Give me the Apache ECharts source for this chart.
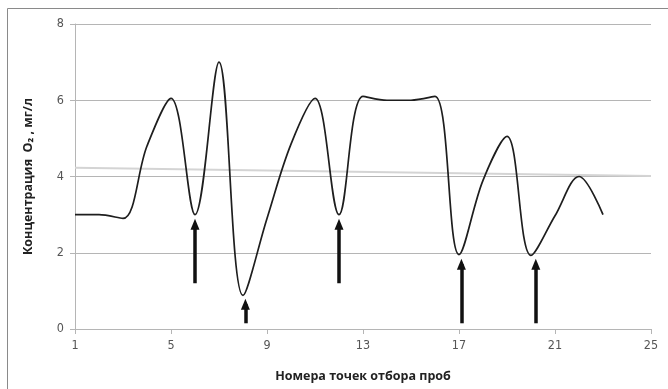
<!DOCTYPE html>
<html lang="ru">
<head>
    <meta charset="UTF-8">
    <script src="https://cdn.jsdelivr.net/npm/echarts@6/dist/echarts.min.js"></script>
    <title>O2</title>
    <style type="text/css">
        html, body { margin: 0; padding: 0; background: #fff; }
        #chart { width: 668px; height: 389px; }
    </style>
</head>
<body>
<div id="chart"></div>
<script type="text/javascript">
    // номера точек и концентрация O2
    const points = [1, 2, 3, 4, 5, 6, 7, 8, 9, 10, 11, 12, 13, 14, 15, 16, 17, 18, 19, 20, 21, 22, 23];
    const o2 = [3.0, 3.0, 2.9, 4.8, 6.05, 3.0, 7.0, 0.88, 2.9, 4.85, 6.05, 3.0, 6.1, 6.0, 6.0, 6.1, 1.95, 3.9, 5.05, 1.93, 2.97, 4.0, 3.0];
    // линия тренда (концы)
    const trendX = [1, 25];
    const trendY = [4.23, 4.01];
    // стрелки
    const arrowX = [6, 8.1, 12, 17.1, 20.2];
    const arrowFrom = [1.2, 0.15, 1.2, 0.15, 0.15];
    const arrowTo = [2.75, 0.65, 2.75, 1.7, 1.7];
    const xTicks = [1, 25, 4];
    const yTicks = [0, 8, 2];

    const myChart = echarts.init(document.getElementById('chart'));
    const labelFont = '"Liberation Sans Narrow", "DejaVu Sans Condensed", sans-serif';

    const lineData = points.map((p, i) => [p, o2[i]]);
    const trendData = trendX.map((p, i) => [p, trendY[i]]);
    const arrows = arrowX.map((x, i) => [{coord: [x, arrowFrom[i]]}, {coord: [x, arrowTo[i]]}]);

    const option = {
        animation: false,
        graphic: [{
            type: 'rect',
            shape: {x: 7.5, y: 8.5, width: 700, height: 420},
            style: {fill: 'none', stroke: '#8a8a8a', lineWidth: 1}
        }],
        grid: {left: 75, right: 17, top: 24, bottom: 60},
        xAxis: {
            type: 'value',
            min: xTicks[0],
            max: xTicks[1],
            interval: xTicks[2],
            name: 'Номера точек отбора проб',
            nameLocation: 'middle',
            nameGap: 41,
            nameTextStyle: {fontFamily: 'Open Sans', fontWeight: 'bold', fontSize: 12.5, color: '#222'},
            axisLine: {show: true, lineStyle: {color: '#b5b5b5'}},
            axisTick: {show: true, length: 5, lineStyle: {color: '#b5b5b5'}},
            axisLabel: {fontFamily: labelFont, fontSize: 12.5, color: '#555', margin: 10},
            splitLine: {show: false}
        },
        yAxis: {
            type: 'value',
            min: yTicks[0],
            max: yTicks[1],
            interval: yTicks[2],
            name: 'Концентрация  O₂ , мг/л',
            nameLocation: 'middle',
            nameGap: 40,
            nameTextStyle: {fontFamily: 'Open Sans', fontWeight: 'bold', fontSize: 12.5, color: '#222'},
            axisLine: {show: true, lineStyle: {color: '#b5b5b5'}},
            axisTick: {show: true, length: 5, lineStyle: {color: '#b5b5b5'}},
            axisLabel: {fontFamily: labelFont, fontSize: 12.5, color: '#555', margin: 11},
            splitLine: {show: true, lineStyle: {color: '#b5b5b5', width: 1}}
        },
        series: [
            {
                type: 'line',
                data: trendData,
                showSymbol: false,
                lineStyle: {color: '#d4d4d4', width: 2},
                z: 1
            },
            {
                type: 'line',
                data: lineData,
                smooth: 0.35,
                showSymbol: false,
                lineStyle: {color: '#1e1e1e', width: 1.7},
                z: 3,
                markLine: {
                    silent: true,
                    symbol: ['none', 'triangle'],
                    symbolSize: [9, 11],
                    label: {show: false},
                    lineStyle: {color: '#111', width: 3.5, type: 'solid'},
                    data: arrows
                }
            }
        ]
    };

    myChart.setOption(option);
</script>
</body>
</html>
